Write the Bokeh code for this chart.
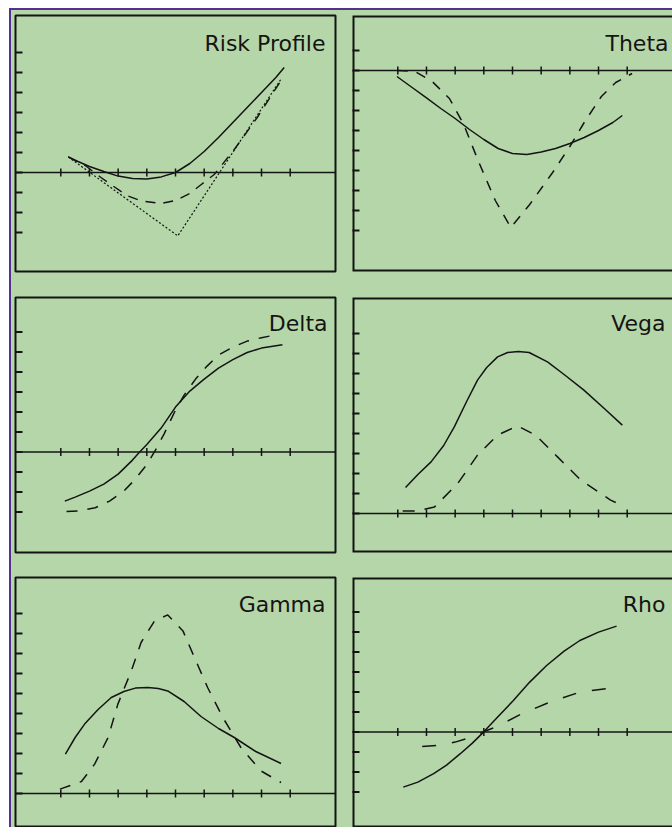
import numpy as np
from bokeh.plotting import figure
from bokeh.models import Range1d, Span, Label, Spacer, BoxAnnotation
from bokeh.layouts import column, row
from bokeh.embed import file_html
from bokeh.resources import INLINE

GREEN = "#b4d6a8"
PURPLE = "#55308f"
INK = "#141414"
FONT = "DejaVu Sans"

# ---------------- data ----------------
x_ticks = [1, 2, 3, 4, 5, 6, 7, 8, 9]

risk_solid_x = [1.26, 1.6, 2.0, 2.5, 3.0, 3.5, 4.0, 4.5, 5.0, 5.5, 6.0, 6.5, 7.0, 7.5, 8.0, 8.5, 8.79]
risk_solid_y = [0.78, 0.55, 0.3, 0.05, -0.18, -0.3, -0.33, -0.22, 0.0, 0.45, 1.05, 1.75, 2.5, 3.25, 4.0, 4.75, 5.25]
risk_dashed_x = [1.26, 1.9, 2.4, 2.9, 3.3, 3.8, 4.5, 5.0, 5.5, 5.9, 6.35, 7.05, 7.85, 8.68]
risk_dashed_y = [0.78, 0.3, -0.25, -0.75, -1.15, -1.42, -1.55, -1.4, -1.05, -0.6, -0.1, 1.15, 2.75, 4.6]
risk_dotted_x = [1.26, 5.08, 8.68]
risk_dotted_y = [0.78, -3.17, 4.67]
risk_y_ticks = [-3, -2, -1, 0, 1, 2, 3, 4, 5, 6]

theta_solid_x = [0.97, 1.5, 2.0, 2.5, 3.0, 3.5, 4.0, 4.5, 5.0, 5.5, 6.0, 6.5, 7.0, 7.5, 8.0, 8.5, 8.83]
theta_solid_y = [-0.3, -0.85, -1.37, -1.9, -2.4, -2.95, -3.45, -3.9, -4.15, -4.2, -4.08, -3.9, -3.65, -3.35, -3.0, -2.6, -2.25]
theta_dashed_x = [1.0, 1.6, 2.2, 2.8, 3.3, 3.8, 4.4, 4.94, 5.6, 6.4, 7.0, 7.5, 8.1, 8.6, 9.17]
theta_dashed_y = [0.0, -0.05, -0.55, -1.4, -2.7, -4.5, -6.5, -7.85, -6.7, -5.1, -3.8, -2.6, -1.3, -0.6, -0.15]
theta_y_ticks = [-8, -7, -6, -5, -4, -3, -2, -1, 0, 1]

delta_solid_x = [1.14, 1.5, 2.0, 2.5, 3.0, 3.5, 3.75, 4.0, 4.5, 5.0, 5.5, 6.0, 6.5, 7.0, 7.5, 8.0, 8.73]
delta_solid_y = [-2.45, -2.25, -1.95, -1.6, -1.1, -0.4, 0.0, 0.38, 1.2, 2.25, 3.05, 3.65, 4.2, 4.62, 4.98, 5.2, 5.37]
delta_dashed_x = [1.2, 1.6, 2.2, 2.7, 3.2, 3.6, 4.0, 4.3, 4.6, 5.0, 5.3, 5.7, 6.1, 6.5, 7.0, 7.5, 8.0, 8.56]
delta_dashed_y = [-2.97, -2.95, -2.78, -2.45, -1.95, -1.35, -0.62, 0.1, 0.9, 2.1, 2.85, 3.65, 4.3, 4.85, 5.25, 5.55, 5.72, 5.88]
delta_y_ticks = [-3, -2, -1, 0, 1, 2, 3, 4, 5, 6]

vega_solid_x = [1.27, 1.7, 2.16, 2.6, 2.97, 3.4, 3.78, 4.1, 4.48, 4.83, 5.2, 5.58, 6.22, 6.8, 7.49, 8.2, 8.83]
vega_solid_y = [1.3, 1.95, 2.58, 3.4, 4.33, 5.6, 6.67, 7.3, 7.83, 8.05, 8.1, 8.05, 7.58, 6.95, 6.17, 5.25, 4.42]
vega_dashed_x = [1.17, 1.7, 2.28, 3.09, 3.78, 4.48, 5.17, 5.81, 6.57, 7.38, 8.42, 8.6]
vega_dashed_y = [0.13, 0.13, 0.33, 1.5, 2.92, 3.92, 4.38, 3.92, 2.83, 1.67, 0.67, 0.55]
vega_y_ticks = [0, 1, 2, 3, 4, 5, 6, 7, 8, 9]

gamma_solid_x = [1.16, 1.5, 1.83, 2.3, 2.76, 3.2, 3.6, 4.04, 4.4, 4.73, 5.3, 5.89, 6.5, 7.05, 7.8, 8.68]
gamma_solid_y = [1.97, 2.8, 3.47, 4.2, 4.8, 5.1, 5.27, 5.3, 5.25, 5.13, 4.6, 3.85, 3.25, 2.8, 2.1, 1.5]
gamma_dashed_x = [0.97, 1.72, 2.18, 2.65, 2.99, 3.46, 3.8, 4.27, 4.73, 5.26, 5.66, 6.12, 6.65, 7.28, 7.98, 8.68]
gamma_dashed_y = [0.22, 0.6, 1.47, 2.8, 4.47, 6.13, 7.55, 8.63, 8.93, 8.13, 6.8, 5.3, 3.8, 2.3, 1.13, 0.55]
gamma_y_ticks = [0, 1, 2, 3, 4, 5, 6, 7, 8, 9]

rho_solid_x = [1.19, 1.7, 2.25, 2.7, 3.18, 3.6, 3.99, 4.5, 5.03, 5.6, 6.19, 6.8, 7.35, 8.0, 8.63]
rho_solid_y = [-2.75, -2.5, -2.08, -1.65, -1.08, -0.55, 0.0, 0.78, 1.58, 2.5, 3.33, 4.05, 4.58, 5.0, 5.3]
rho_dashed_x = [1.85, 2.37, 3.0, 3.47, 4.1, 4.46, 5.27, 6.31, 7.35, 8.28, 8.8]
rho_dashed_y = [-0.72, -0.67, -0.5, -0.3, 0.08, 0.28, 0.88, 1.5, 2.0, 2.17, 2.15]
rho_y_ticks = [-3, -2, -1, 0, 1, 2, 3, 4, 5, 6]

X_START, X_END = -0.58, 10.58


def make_panel(title, width, height, borders, y_start, y_end, y_ticks, series,
               label_inset, label_drop, open_right=False):
    left, right, top, bottom = borders
    p = figure(width=width, height=height,
               x_range=Range1d(X_START, X_END), y_range=Range1d(y_start, y_end),
               output_backend="svg", toolbar_location=None,
               x_axis_location=None, y_axis_location=None,
               min_border_left=left, min_border_right=right,
               min_border_top=top, min_border_bottom=bottom,
               background_fill_color=GREEN, border_fill_color=GREEN,
               outline_line_color=None if open_right else INK, outline_line_width=2,
               styles={"background-color": GREEN})
    p.grid.visible = False
    if open_right:
        # frame border whose right side lies beyond the visible (cropped) edge
        p.add_layout(BoxAnnotation(left=X_START, right=X_END + 0.4,
                                   bottom=y_start, top=y_end,
                                   fill_alpha=0, line_color=INK, line_alpha=1.0,
                                   line_width=4))

    p.add_layout(Span(location=0, dimension="width", line_color=INK, line_width=1.5))
    p.scatter(x_ticks, [0] * len(x_ticks), marker="dash", angle=np.pi / 2,
              size=8, line_color=INK, line_width=1.5)
    p.scatter([X_START] * len(y_ticks), y_ticks, marker="dash", size=14,
              line_color=INK, line_width=2)

    for xs, ys, dash, lw in series:
        p.line(xs, ys, line_color=INK, line_width=lw, line_dash=dash)

    p.add_layout(Label(x=X_END, y=y_end, x_offset=-label_inset, y_offset=-label_drop,
                       text=title, text_align="right", text_baseline="alphabetic",
                       text_font=FONT, text_font_size="22px", text_color=INK))
    return p


f_risk = make_panel("Risk Profile", 332, 274, (4, 8, 5, 13), -4.95, 7.85, risk_y_ticks,
                    [(risk_dotted_x, risk_dotted_y, "2 2", 1.2),
                     (risk_dashed_x, risk_dashed_y, "10 8", 1.4),
                     (risk_solid_x, risk_solid_y, "solid", 1.5)], 10, 28)
f_theta = make_panel("Theta", 329, 274, (9, 0, 5, 13), -10.05, 2.75, theta_y_ticks,
                     [(theta_dashed_x, theta_dashed_y, "10 9", 1.5),
                      (theta_solid_x, theta_solid_y, "solid", 1.5)], 4, 28, True)
f_delta = make_panel("Delta", 332, 280, (4, 8, 13, 12), -5.02, 7.73, delta_y_ticks,
                     [(delta_dashed_x, delta_dashed_y, "11 10", 1.5),
                      (delta_solid_x, delta_solid_y, "solid", 1.5)], 8, 26)
f_vega = make_panel("Vega", 329, 280, (9, 0, 13, 12), -1.95, 10.8, vega_y_ticks,
                    [(vega_dashed_x, vega_dashed_y, "12 10", 1.5),
                     (vega_solid_x, vega_solid_y, "solid", 1.5)], 7, 26, True)
f_gamma = make_panel("Gamma", 332, 263, (4, 8, 13, 0), -1.7, 10.8, gamma_y_ticks,
                     [(gamma_dashed_x, gamma_dashed_y, "11 10", 1.5),
                      (gamma_solid_x, gamma_solid_y, "solid", 1.5)], 10, 27)
f_rho = make_panel("Rho", 329, 263, (9, 0, 13, 0), -4.77, 7.73, rho_y_ticks,
                   [(rho_dashed_x, rho_dashed_y, "14 16", 1.5),
                    (rho_solid_x, rho_solid_y, "solid", 1.5)], 7, 27, True)

bg = {"background-color": GREEN}
grid = column(row(f_risk, f_theta, spacing=0, styles=bg),
              row(f_delta, f_vega, spacing=0, styles=bg),
              row(f_gamma, f_rho, spacing=0, styles=bg),
              spacing=0, styles=bg)
inner = row(Spacer(width=2, height=817, styles={"background-color": PURPLE}), grid, spacing=0)
outer = column(Spacer(width=663, height=2, styles={"background-color": PURPLE}), inner, spacing=0)
page = column(Spacer(width=672, height=8), row(Spacer(width=9, height=819), outer, spacing=0), spacing=0)

open("out.html", "w").write(file_html(page, INLINE))
